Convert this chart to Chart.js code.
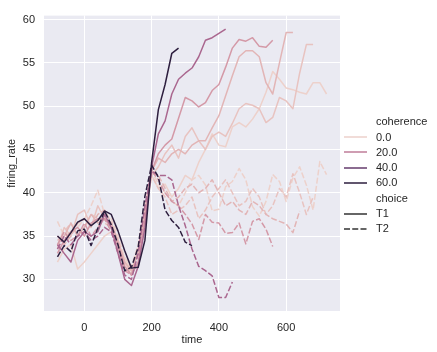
<!DOCTYPE html>
<html>
<head>
<meta charset="utf-8">
<script src="https://cdn.jsdelivr.net/npm/chart.js@4/dist/chart.umd.min.js"></script>
<style>
  body { margin: 0; background: #fff; }
  #wrap { position: relative; width: 437px; height: 352px; font-family: "Liberation Sans", Arial, sans-serif; color: #262626; }
  #chart { position: absolute; left: 0; top: 0; }
  .row { position: absolute; left: 344px; height: 13px; font-size: 11px; line-height: 13px; display: flex; align-items: center; white-space: nowrap; }
  .row svg { flex: none; }
  .row span { margin-left: 9px; }
  .row.title span { margin-left: 32px; }
</style>
</head>
<body>
<div id="wrap">
  <canvas id="chart" width="437" height="352"></canvas>
  <div id="legend"></div>
</div>
<script>
const times = [-80, -60, -40, -20, 0, 20, 40, 60, 80, 100, 120, 140, 160, 180, 200, 220, 240, 260, 280, 300,
  320, 340, 360, 380, 400, 420, 440, 460, 480, 500, 520, 540, 560, 580, 600, 620, 640, 660, 680, 700, 720];

const coherenceLevels = [0, 3.2, 6.4, 12.8, 25.6, 51.2];
const choices = ['T1', 'T2'];

// firing rate per coherence / choice, starting at t = -80, every 20 ms
const rate_0_T1 = [32.0, 33.5, 34.0, 31.2, 32.0, 33.0, 34.0, 35.0, 35.5, 34.0, 32.5, 31.0, 33.0, 37.5,
  42.0, 40.5, 41.0, 39.5, 40.5, 42.0, 41.5, 43.5, 45.0, 46.8, 45.5, 45.3, 47.6, 48.1, 47.6, 48.5, 49.7,
  51.6, 54.0, 53.1, 52.1, 51.9, 51.6, 51.4, 52.7, 52.7, 51.4];
const rate_0_T2 = [36.7, 35.0, 35.5, 36.0, 37.0, 38.5, 40.3, 37.5, 37.0, 35.0, 32.5, 31.5, 34.0, 38.5,
  42.5, 41.0, 40.0, 39.0, 38.5, 40.0, 41.5, 42.0, 40.9, 37.9, 38.1, 40.7, 41.3, 42.8, 41.5, 38.4, 37.3,
  39.0, 42.1, 41.3, 39.0, 41.7, 43.0, 40.9, 38.0, 43.6, 42.1];
const rate_3_2_T1 = [33.5, 36.0, 35.0, 37.5, 38.0, 36.0, 38.5, 37.0, 36.5, 34.0, 32.0, 30.5, 33.5, 37.0,
  42.0, 43.0, 44.5, 45.5, 44.0, 46.5, 47.5, 46.0, 45.0, 46.5, 47.0, 46.5, 48.0, 49.7, 50.3, 50.1, 49.7,
  48.1, 48.7, 51.0, 50.6, 49.7, 53.8, 57.1, 57.1];
const rate_3_2_T2 = [34.0, 35.5, 36.5, 35.0, 36.0, 37.5, 37.0, 36.5, 36.0, 34.5, 32.0, 31.0, 33.5, 37.5,
  42.0, 40.5, 39.5, 37.5, 38.0, 38.5, 39.5, 37.0, 38.0, 39.5, 40.5, 41.5, 40.0, 38.5, 39.0, 40.5, 39.5,
  37.5, 38.5, 40.5, 39.5, 42.2, 40.0, 37.5, 39.5];
const rate_6_4_T1 = [34.5, 35.0, 36.5, 35.0, 36.0, 37.5, 36.5, 37.0, 36.5, 34.5, 32.0, 31.0, 33.0, 38.0,
  42.5, 44.0, 43.5, 44.5, 45.0, 44.5, 45.5, 46.0, 46.0, 47.5, 48.9, 51.2, 53.5, 55.7, 56.4, 56.4, 55.7,
  52.7, 51.4, 55.0, 58.5, 58.5];
const rate_6_4_T2 = [35.0, 34.0, 35.0, 36.5, 37.0, 36.0, 37.5, 38.0, 36.5, 34.0, 31.5, 30.5, 33.0, 38.0,
  42.5, 42.0, 40.5, 39.0, 39.5, 40.5, 41.0, 40.0, 40.5, 41.5, 40.0, 38.5, 39.0, 38.0, 37.5, 39.0, 38.5,
  37.5, 37.0, 36.7, 36.4, 35.4, 37.9];
const rate_12_8_T1 = [33.0, 34.5, 35.5, 36.0, 35.0, 36.5, 37.0, 37.0, 36.0, 34.0, 31.5, 30.5, 32.0, 37.0,
  42.5, 44.5, 45.5, 46.2, 48.6, 51.0, 50.6, 49.9, 50.4, 51.8, 52.5, 54.5, 56.7, 57.7, 57.5, 57.9, 56.9,
  56.8, 57.6];
const rate_12_8_T2 = [34.0, 35.5, 34.5, 35.0, 36.5, 35.0, 36.0, 37.0, 35.5, 33.5, 31.0, 30.5, 33.0, 38.0,
  42.5, 41.5, 40.0, 39.0, 38.5, 37.5, 36.4, 34.6, 37.5, 36.6, 36.5, 35.3, 35.4, 36.5, 34.1, 36.7, 37.0,
  35.8, 33.8];
const rate_25_6_T1 = [34.0, 33.0, 32.0, 34.5, 35.5, 35.0, 35.5, 37.5, 36.0, 33.0, 30.0, 29.3, 31.5, 36.0,
  43.0, 46.8, 48.3, 51.4, 53.1, 53.8, 54.4, 55.7, 57.6, 57.9, 58.4, 58.9];
const rate_25_6_T2 = [33.5, 35.0, 34.0, 35.0, 35.5, 34.5, 35.0, 36.0, 35.5, 33.0, 30.5, 30.0, 33.0, 38.5,
  42.5, 42.0, 42.0, 41.5, 38.5, 36.2, 33.5, 31.5, 31.0, 30.4, 27.9, 27.9, 29.7];
const rate_51_2_T1 = [35.0, 34.3, 35.4, 36.6, 37.0, 36.2, 36.8, 37.9, 37.5, 35.6, 33.3, 31.3, 31.4, 34.5,
  43.5, 49.6, 52.5, 56.1, 56.7];
const rate_51_2_T2 = [32.6, 33.9, 33.2, 35.6, 35.8, 33.9, 35.9, 37.9, 36.3, 34.0, 31.0, 31.4, 33.7, 39.6,
  43.2, 41.8, 38.0, 36.8, 36.0, 34.3, 33.9];

const xTicks = [0, 200, 400, 600];
const yTicks = [30, 35, 40, 45, 50, 55, 60];

const legendHueLabels = ['0.0', '20.0', '40.0', '60.0'];

// cubehelix colours (seaborn default for a numeric hue)
const hueColors = ['#edd1cb', '#e8c3c0', '#e2b5b6', '#d499a7', '#aa678f', '#2d1e3e'];
const legendHueColors = ['#edd1cb', '#bf7c99', '#653b6c', '#2d1e3e'];
const dashT2 = [6, 2.25];

const rates = [
  [rate_0_T1, rate_0_T2],
  [rate_3_2_T1, rate_3_2_T2],
  [rate_6_4_T1, rate_6_4_T2],
  [rate_12_8_T1, rate_12_8_T2],
  [rate_25_6_T1, rate_25_6_T2],
  [rate_51_2_T1, rate_51_2_T2]
];

const datasets = [];
// darkest first so it ends up on top
for (let h = coherenceLevels.length - 1; h >= 0; h--) {
  for (let c = choices.length - 1; c >= 0; c--) {
    const vals = rates[h][c];
    datasets.push({
      label: coherenceLevels[h] + ' ' + choices[c],
      data: vals.map((v, i) => ({ x: times[i], y: v })),
      borderColor: hueColors[h],
      borderWidth: 1.5,
      borderDash: c === 1 ? dashT2 : [],
      borderJoinStyle: 'round',
      pointRadius: 0,
      tension: 0,
      fill: false
    });
  }
}

const plotBg = {
  id: 'plotBg',
  beforeDraw(chart) {
    const { ctx, chartArea: a } = chart;
    ctx.save();
    ctx.fillStyle = '#eaeaf2';
    ctx.fillRect(a.left, a.top, a.right - a.left, a.bottom - a.top);
    ctx.restore();
  }
};

Chart.defaults.font.family = '"Liberation Sans", Arial, sans-serif';
Chart.defaults.font.size = 11;
Chart.defaults.color = '#262626';

new Chart(document.getElementById('chart'), {
  type: 'line',
  data: { datasets },
  plugins: [plotBg],
  options: {
    responsive: false,
    animation: false,
    devicePixelRatio: 1,
    layout: { padding: { left: 0, top: 11.5, right: 97, bottom: 0 } },
    plugins: { legend: { display: false }, tooltip: { enabled: false } },
    scales: {
      x: {
        type: 'linear',
        min: -120,
        max: 760,
        afterBuildTicks: s => { s.ticks = xTicks.map(v => ({ value: v })); },
        afterFit: s => { s.height = 41; },
        grid: { color: '#ffffff', lineWidth: 1, drawTicks: false },
        border: { display: false },
        ticks: { padding: 10, maxRotation: 0 },
        title: { display: true, text: 'time', font: { size: 11 }, padding: { top: 0, bottom: 5.4 } }
      },
      y: {
        type: 'linear',
        min: 26.35,
        max: 60.45,
        afterBuildTicks: s => { s.ticks = yTicks.map(v => ({ value: v })); },
        afterFit: s => { s.width = 44; },
        grid: { color: '#ffffff', lineWidth: 1, drawTicks: false },
        border: { display: false },
        ticks: { padding: 9 },
        title: { display: true, text: 'firing_rate', font: { size: 11 }, padding: { top: 5.4, bottom: 0 } }
      }
    }
  }
});

// legend
const legend = document.getElementById('legend');
function addRow(centerY, label, color, dash, isTitle) {
  const row = document.createElement('div');
  row.className = 'row' + (isTitle ? ' title' : '');
  row.style.top = (centerY - 6.5) + 'px';
  if (!isTitle) {
    const svg = document.createElementNS('http://www.w3.org/2000/svg', 'svg');
    svg.setAttribute('width', '23');
    svg.setAttribute('height', '4');
    const ln = document.createElementNS('http://www.w3.org/2000/svg', 'line');
    ln.setAttribute('x1', '0'); ln.setAttribute('x2', '23');
    ln.setAttribute('y1', '2'); ln.setAttribute('y2', '2');
    ln.setAttribute('stroke', color);
    ln.setAttribute('stroke-width', '1.5');
    if (dash) ln.setAttribute('stroke-dasharray', dash.join(' '));
    svg.appendChild(ln);
    row.appendChild(svg);
  }
  const span = document.createElement('span');
  span.textContent = label;
  row.appendChild(span);
  legend.appendChild(row);
}

let y = 121.7;
const step = 15.3;
addRow(y, 'coherence', null, null, true);
legendHueLabels.forEach((lab, i) => { y += step; addRow(y, lab, legendHueColors[i], null, false); });
y += step;
addRow(y, 'choice', null, null, true);
choices.forEach((ch, i) => { y += step; addRow(y, ch, '#333333', i === 1 ? dashT2 : null, false); });
</script>
</body>
</html>
